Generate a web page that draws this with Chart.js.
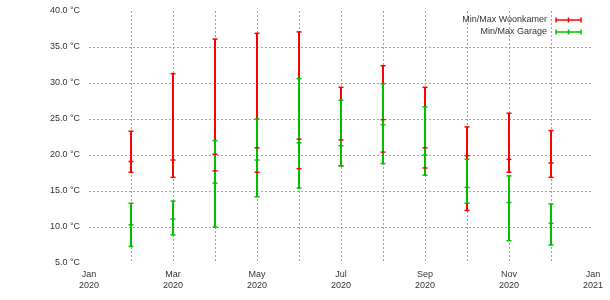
<!DOCTYPE html>
<html>
<head>
<meta charset="utf-8">
<script src="https://cdn.jsdelivr.net/npm/chart.js@4/dist/chart.umd.min.js"></script>
<style>
  html, body { margin: 0; padding: 0; background: #ffffff; }
  #wrap { width: 610px; height: 300px; }
</style>
</head>
<body>
<div id="wrap"><canvas id="c" width="610" height="300"></canvas></div>
<script>
// ---- data (month numbers: 0 = Jan 2020 ... 12 = Jan 2021) ----
const months = [1, 2, 3, 4, 5, 6, 7, 8, 9, 10, 11]; // Feb .. Dec 2020
const seriesNames = ['Min/Max Woonkamer', 'Min/Max Garage'];

const woonkamerMax  = [23.3, 31.3, 36.1, 36.9, 37.1, 29.4, 32.4, 29.4, 23.9, 25.8, 23.4];
const woonkamerMean = [19.1, 19.3, 20.1, 21.0, 22.2, 22.1, 24.9, 21.0, 19.9, 19.4, 18.9];
const woonkamerMin  = [17.6, 16.9, 17.8, 17.6, 18.1, 18.5, 20.4, 18.2, 12.3, 17.6, 16.9];

const garageMax  = [13.3, 13.6, 22.0, 25.0, 30.6, 27.6, 29.9, 26.7, 19.4, 17.1, 13.2];
const garageMean = [10.3, 11.1, 16.1, 19.3, 21.7, 21.3, 24.2, 20.0, 15.5, 13.4, 10.5];
const garageMin  = [ 7.3,  8.9, 10.0, 14.2, 15.4, 18.5, 18.8, 17.2, 13.3,  8.1,  7.5];

const xTickMonths = ['Jan', 'Mar', 'May', 'Jul', 'Sep', 'Nov', 'Jan'];
const xTickYears  = ['2020', '2020', '2020', '2020', '2020', '2020', '2021'];
const yTicks = [5, 10, 15, 20, 25, 30, 35, 40];

// ---- styles ----
const RED = '#ff0000';
const GREEN = '#00c000';
const FONT = '"Liberation Sans", Arial, sans-serif';
const TEXT = '#333333';
const GRID = '#a0a0a0';
const NONE = 'rgba(0,0,0,0)';

function rangeData(mins, maxs) {
  return months.map((m, i) => ({ x: m, y: [mins[i], maxs[i]] }));
}
function capData(mins, means, maxs) {
  const out = [];
  months.forEach((m, i) => {
    out.push({ x: m, y: mins[i] });
    out.push({ x: m, y: means[i] });
    out.push({ x: m, y: maxs[i] });
  });
  return out;
}

const barCommon = { type: 'bar', barThickness: 2, grouped: false, borderWidth: 0, inflateAmount: 0 };
const capCommon = { type: 'scatter', showLine: false, pointStyle: 'line', pointRadius: 2.5, pointHoverRadius: 2.5, pointBorderWidth: 1.5 };

const legendPlugin = {
  id: 'errLegend',
  afterDraw(chart) {
    const ctx = chart.ctx;
    const right = chart.chartArea.right;
    const colors = [RED, GREEN];
    ctx.save();
    ctx.font = '9px ' + FONT;
    ctx.textAlign = 'right';
    ctx.textBaseline = 'middle';
    seriesNames.forEach((name, i) => {
      const y = 20 + i * 12;
      ctx.fillStyle = TEXT;
      ctx.fillText(name, right - 46, y);
      const x0 = right - 37, x1 = right - 12, xm = (x0 + x1) / 2;
      ctx.strokeStyle = colors[i];
      ctx.lineWidth = 1.5;
      ctx.beginPath();
      ctx.moveTo(x0, y); ctx.lineTo(x1, y);
      [x0, xm, x1].forEach(x => { ctx.moveTo(x, y - 2.5); ctx.lineTo(x, y + 2.5); });
      ctx.stroke();
    });
    ctx.restore();
  }
};

new Chart(document.getElementById('c'), {
  data: {
    datasets: [
      Object.assign({}, capCommon, { label: seriesNames[1] + ' caps', data: capData(garageMin, garageMean, garageMax), borderColor: GREEN, backgroundColor: GREEN, order: 1 }),
      Object.assign({}, capCommon, { label: seriesNames[0] + ' caps', data: capData(woonkamerMin, woonkamerMean, woonkamerMax), borderColor: RED, backgroundColor: RED, order: 2 }),
      Object.assign({}, barCommon, { label: seriesNames[1], data: rangeData(garageMin, garageMax), backgroundColor: GREEN, order: 3 }),
      Object.assign({}, barCommon, { label: seriesNames[0], data: rangeData(woonkamerMin, woonkamerMax), backgroundColor: RED, order: 4 })
    ]
  },
  options: {
    responsive: false,
    animation: false,
    events: [],
    layout: { padding: { top: 11, right: 17, left: 0, bottom: 0 } },
    plugins: { legend: { display: false }, tooltip: { enabled: false } },
    scales: {
      x: {
        type: 'linear',
        min: 0, max: 12,
        offset: false,
        border: { display: false, dash: [2, 2] },
        grid: {
          offset: false,
          drawTicks: false,
          lineWidth: 1,
          color: (c) => (c.tick && c.tick.value > 0 && c.tick.value < 12) ? GRID : NONE
        },
        ticks: {
          stepSize: 1,
          autoSkip: false,
          maxRotation: 0,
          padding: 6,
          color: TEXT,
          font: { family: FONT, size: 9 },
          callback: (v) => {
            if (v % 2 !== 0) return '';
            const k = v / 2;
            return [xTickMonths[k], xTickYears[k]];
          }
        },
        afterFit: (s) => { s.height = 37; }
      },
      y: {
        type: 'linear',
        min: yTicks[0], max: yTicks[yTicks.length - 1],
        border: { display: false, dash: [2, 2] },
        grid: {
          drawTicks: true,
          tickLength: 6,
          tickColor: NONE,
          lineWidth: 1,
          color: (c) => (c.tick && c.tick.value > yTicks[0] && c.tick.value < yTicks[yTicks.length - 1]) ? GRID : NONE
        },
        afterBuildTicks: (s) => { s.ticks = yTicks.map(v => ({ value: v })); },
        ticks: {
          padding: 3,
          color: TEXT,
          font: { family: FONT, size: 9 },
          callback: (v) => Number(v).toFixed(1) + ' °C'
        },
        afterFit: (s) => { s.width = 89; }
      }
    }
  },
  plugins: [legendPlugin]
});
</script>
</body>
</html>
